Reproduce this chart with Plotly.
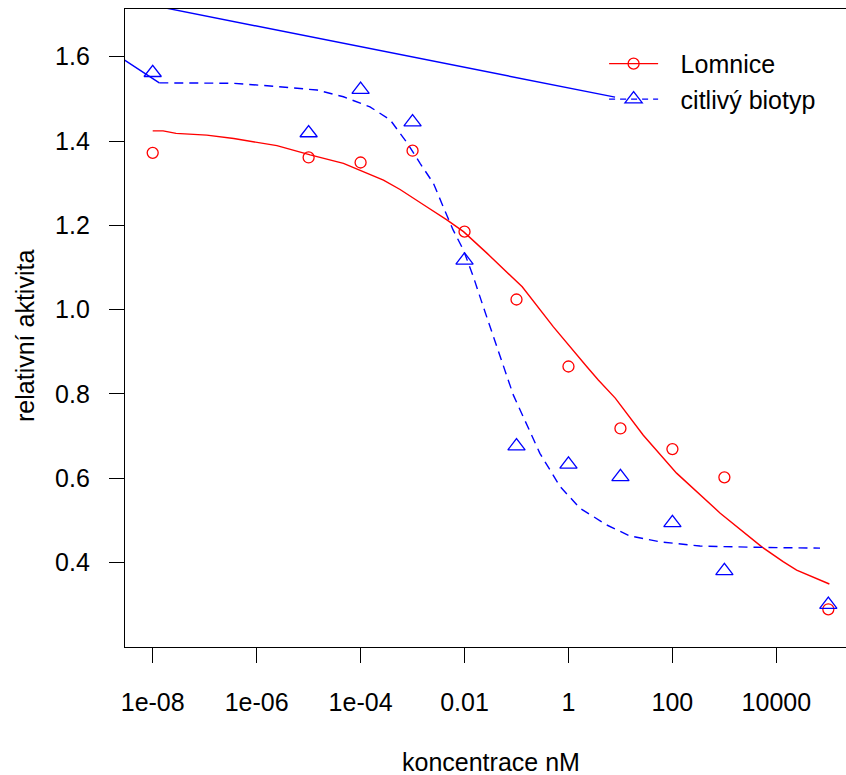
import numpy as np
import plotly.graph_objects as go

# measured relative activity at each concentration (nM)
conc = [1e-8, 1e-5, 1e-4, 1e-3, 1e-2, 1e-1, 1, 10, 100, 1000, 1e5]
lomnice = [1.372, 1.361, 1.349, 1.377, 1.185, 1.024, 0.865, 0.718, 0.669, 0.602, 0.289]
citlivy = [1.562, 1.419, 1.522, 1.445, 1.117, 0.676, 0.633, 0.603, 0.494, 0.380, 0.300]

# smoothed fit for Lomnice (log10 concentration, activity)
fit_lom_log = [-8.0, -7.8, -7.55, -6.96, -6.44, -6.06, -5.61, -4.97, -4.33, -3.56,
               -3.24, -2.73, -2.34, -2.02, -1.57, -0.89, -0.29, 0.35, 0.574, 0.90,
               1.44, 2.08, 2.92, 3.72, 4.13, 4.39, 5.02]
fit_lom_val = [1.424, 1.424, 1.418, 1.414, 1.406, 1.398, 1.389, 1.367, 1.347, 1.307,
               1.285, 1.244, 1.213, 1.185, 1.134, 1.054, 0.959, 0.865, 0.833, 0.790,
               0.702, 0.612, 0.517, 0.437, 0.402, 0.382, 0.349]

# smoothed fit for the sensitive biotype
fit_cit_log = [-7.873, -6.45, -5.68, -4.84, -4.33, -3.82, -3.43, -3.10, -2.855, -2.60,
               -2.41, -2.22, -2.02, -1.83, -1.64, -1.45, -1.26, -1.16, -1.06, -0.87,
               -0.55, -0.16, 0.22, 0.736, 1.18, 1.76, 2.53, 3.62, 4.84]
fit_cit_val = [1.538, 1.537, 1.530, 1.521, 1.505, 1.481, 1.450, 1.395, 1.347, 1.300,
               1.244, 1.189, 1.141, 1.078, 1.007, 0.936, 0.865, 0.833, 0.797, 0.746,
               0.659, 0.580, 0.529, 0.489, 0.463, 0.449, 0.439, 0.436, 0.434]

# extra solid blue polyline drawn over the plot
stray_log = [0.896, -11.08, -7.873]
stray_val = [1.504, 1.797, 1.538]

xtick_vals = [1e-8, 1e-6, 1e-4, 1e-2, 1, 100, 1e4]
xtick_text = ["1e-08", "1e-06", "1e-04", "0.01", "1", "100", "10000"]
ytick_vals = [0.4, 0.6, 0.8, 1.0, 1.2, 1.4, 1.6]
ytick_text = ["0.4", "0.6", "0.8", "1.0", "1.2", "1.4", "1.6"]

series_names = ["Lomnice", "citlivý biotyp"]

RED = "#ff0000"
BLUE = "#0000ff"
FONT = "Liberation Sans, Arial, sans-serif"
FS = 25
DASH = "9px,6px"
LEGEND_GAP = "\u2002\u2009"  # spacing between legend symbol and label

fig = go.Figure()

fig.add_trace(go.Scatter(x=np.power(10.0, stray_log), y=stray_val, mode="lines",
                         line=dict(color=BLUE, width=1.4), showlegend=False,
                         hoverinfo="skip"))
fig.add_trace(go.Scatter(x=np.power(10.0, fit_lom_log), y=fit_lom_val, mode="lines",
                         line=dict(color=RED, width=1.4), showlegend=False))
fig.add_trace(go.Scatter(x=np.power(10.0, fit_cit_log), y=fit_cit_val, mode="lines",
                         line=dict(color=BLUE, width=1.4, dash=DASH), showlegend=False))
fig.add_trace(go.Scatter(x=conc, y=lomnice, mode="markers",
                         marker=dict(symbol="circle-open", size=11, color=RED,
                                     line=dict(width=1.3, color=RED)),
                         showlegend=False))
fig.add_trace(go.Scatter(x=conc, y=citlivy, mode="markers",
                         marker=dict(symbol="triangle-up-open", size=15, color=BLUE,
                                     line=dict(width=1.3, color=BLUE)),
                         showlegend=False))

# legend entries
fig.add_trace(go.Scatter(x=[None], y=[None], mode="lines+markers",
                         name=LEGEND_GAP + series_names[0],
                         line=dict(color=RED, width=1.4),
                         marker=dict(symbol="circle-open", size=11, color=RED,
                                     line=dict(width=1.3, color=RED))))
fig.add_trace(go.Scatter(x=[None], y=[None], mode="lines+markers",
                         name=LEGEND_GAP + series_names[1],
                         line=dict(color=BLUE, width=1.4, dash="6px,5px"),
                         marker=dict(symbol="triangle-up-open", size=15, color=BLUE,
                                     line=dict(width=1.3, color=BLUE))))

fig.update_layout(
    width=846, height=775,
    margin=dict(l=125, r=0, t=9, b=128, pad=0),
    paper_bgcolor="white", plot_bgcolor="white",
    font=dict(family=FONT, size=FS, color="black"),
    showlegend=True,
    legend=dict(x=0.6645, y=0.95, xanchor="left", yanchor="top",
                bgcolor="rgba(0,0,0,0)", borderwidth=0,
                font=dict(family=FONT, size=FS, color="black"),
                itemwidth=49, tracegroupgap=0),
    xaxis=dict(type="log", range=[-8.533, 5.340],
               tickmode="array", tickvals=xtick_vals, ticktext=xtick_text,
               ticks="outside", ticklen=15, tickwidth=1.2, tickcolor="black",
               showline=True, linecolor="black", linewidth=1.4, mirror=True,
               showgrid=False, zeroline=False, ticklabelstandoff=18),
    yaxis=dict(range=[0.1995, 1.7132],
               tickmode="array", tickvals=ytick_vals, ticktext=ytick_text,
               ticks="outside", ticklen=15, tickwidth=1.2, tickcolor="black",
               showline=True, linecolor="black", linewidth=1.4, mirror=False,
               showgrid=False, zeroline=False, ticklabelstandoff=14),
    annotations=[
        dict(text="koncentrace nM", xref="paper", yref="paper",
             x=0.5078, y=(647 - 762) / 638, xanchor="center", yanchor="middle",
             showarrow=False, font=dict(family=FONT, size=FS)),
        dict(text="relativní aktivita", xref="paper", yref="paper",
             x=(25 - 125) / 721, y=(647 - 336) / 638, xanchor="center", yanchor="middle",
             textangle=-90, showarrow=False, font=dict(family=FONT, size=FS)),
    ],
)

fig.write_html("out.html")
